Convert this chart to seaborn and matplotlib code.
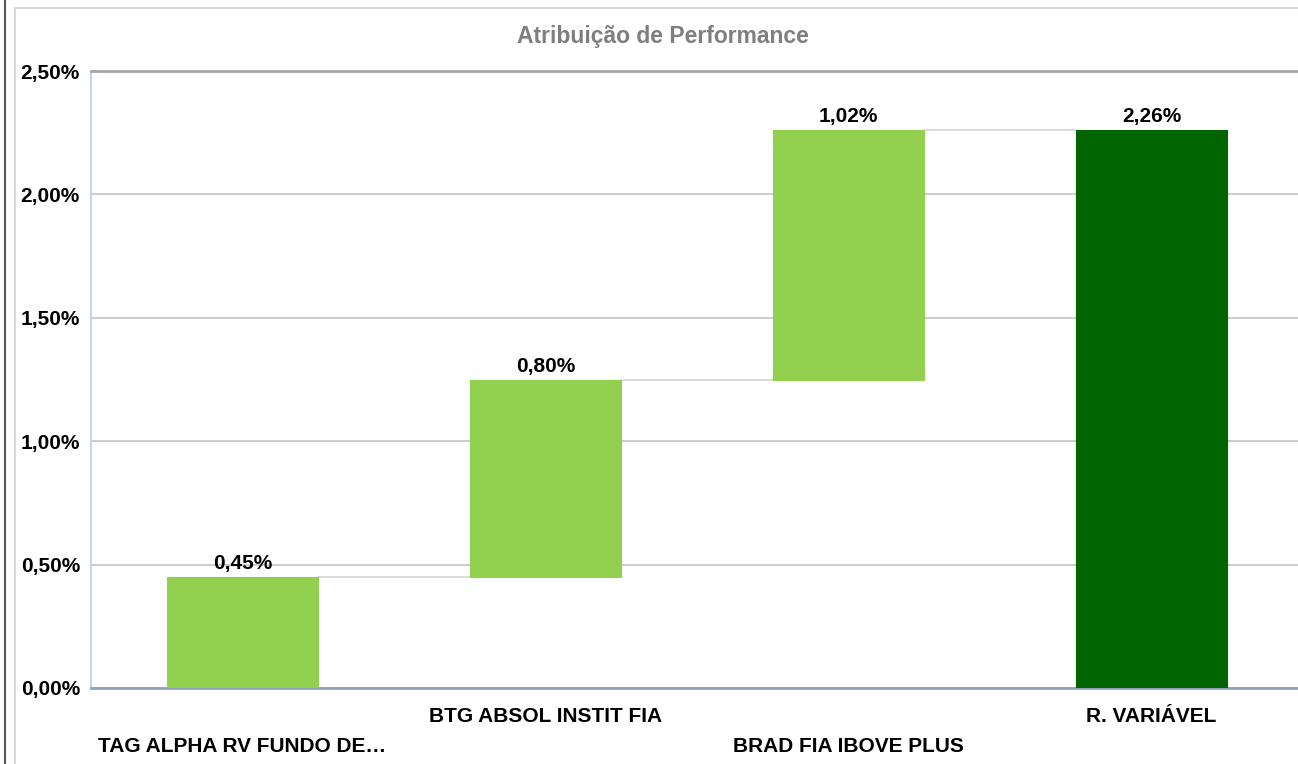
import matplotlib
matplotlib.use("Agg")
import matplotlib.pyplot as plt
import seaborn as sns
import pandas as pd
from matplotlib.lines import Line2D
from matplotlib.patches import Rectangle

# ── Data ───────────────────────────────────────────────────────────────────
categories = ["TAG ALPHA RV FUNDO DE…", "BTG ABSOL INSTIT FIA",
              "BRAD FIA IBOVE PLUS", "R. VARIÁVEL"]
contrib    = [0.449, 0.797, 1.017]      # % contribution per fund
total      = 2.26                       # % total (R. VARIÁVEL)
yticks     = [0.0, 0.5, 1.0, 1.5, 2.0, 2.5]

# waterfall bases / heights
bottoms = [0.0]
for v in contrib[:-1]:
    bottoms.append(bottoms[-1] + v)
heights = list(contrib)
heights[-1] = total - bottoms[-1]       # last step closes on the total
bottoms.append(0.0)
heights.append(total)
labels_val = contrib + [total]

df = pd.DataFrame({"categoria": categories, "altura": heights})

LIGHT = "#92D050"
DARK  = "#006400"
colors = [LIGHT, LIGHT, LIGHT, DARK]

sns.set_style("white")
plt.rcParams["font.family"] = ["Liberation Sans", "DejaVu Sans"]

fig = plt.figure(figsize=(12.98, 7.64), dpi=100)
ax = fig.add_axes([91/1298, 76/764, 1212/1298, 617/764])

sns.barplot(data=df, x="categoria", y="altura", bottom=bottoms,
            width=0.5, errorbar=None, color=LIGHT, ax=ax, zorder=3)
for p, c in zip(ax.patches, colors):
    p.set_facecolor(c)
    p.set_edgecolor(c)
    p.set_linewidth(0.8)

# connectors between consecutive bars
tops = [b + h for b, h in zip(bottoms, heights)]
for i in range(len(categories) - 1):
    ax.plot([i + 0.25, i + 0.75], [tops[i], tops[i]],
            color="#D9D9D9", lw=1.3, zorder=2)

# value labels
for i, (t, v) in enumerate(zip(tops, labels_val)):
    ax.annotate(f"{v:.2f}%".replace(".", ","), (i, t), xytext=(0, 3),
                textcoords="offset points", ha="center", va="bottom",
                fontsize=15, fontweight="bold", color="black", zorder=4)

ax.set_xlim(-0.5, 3.5)
ax.set_ylim(0, 2.5)
ax.set_yticks(yticks)
ax.set_yticklabels([f"{t:.2f}%".replace(".", ",") for t in yticks],
                   fontsize=15, fontweight="bold", color="black")
ax.yaxis.grid(True, color="#C8C8C8", lw=1.3)
ax.set_axisbelow(True)
ax.tick_params(axis="y", length=0, pad=8)
ax.tick_params(axis="x", length=0)
ax.set_xlabel("")
ax.set_ylabel("")

# staggered category labels
ax.set_xticklabels([])
for i, cat in enumerate(categories):
    off = -58 if i % 2 == 0 else -29
    ax.annotate(cat, (i, 0), xytext=(0, off), textcoords="offset pixels",
                ha="center", va="center", fontsize=15, fontweight="bold",
                color="black", annotation_clip=False)

for s in ["left", "right", "top", "bottom"]:
    ax.spines[s].set_visible(True)
ax.spines["top"].set_color("#A6A6A6")
ax.spines["top"].set_linewidth(2)
ax.spines["left"].set_color("#C5D5F0")
ax.spines["left"].set_linewidth(1.5)
ax.spines["bottom"].set_color("#8FA3C8")
ax.spines["bottom"].set_linewidth(2)
ax.spines["right"].set_visible(False)

fig.text(663/1298, 1 - 36/764, "Atribuição de Performance", ha="center",
         va="center", fontsize=16.5, fontweight="bold", color="#7F7F7F")

# outer chart frame and screenshot edge
fig.add_artist(Rectangle((15/1298, -0.01), 1.0, 1 - 8/764 + 0.01,
                         transform=fig.transFigure, fill=False,
                         edgecolor="#D0D0D0", lw=1.2))
fig.add_artist(Line2D([5/1298, 5/1298], [0, 1], transform=fig.transFigure,
                      color="#555555", lw=1.5))

fig.savefig("out.png", dpi=100)
